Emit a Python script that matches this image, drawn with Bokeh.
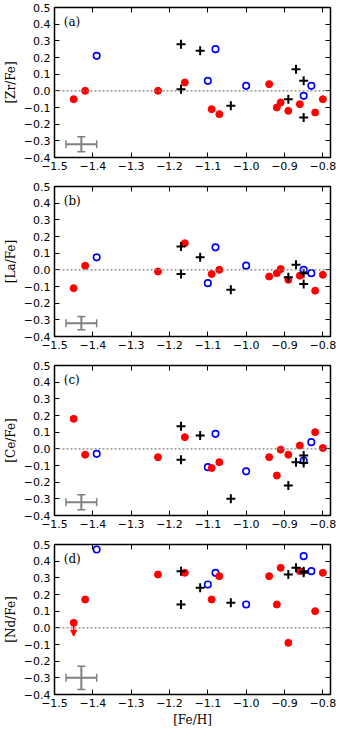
from bokeh.plotting import figure
from bokeh.layouts import column
from bokeh.models import (Range1d, FixedTicker, CustomJSTickFormatter, LinearAxis, Span,
                          Label, Whisker, TeeHead, Arrow, NormalHead, ColumnDataSource)
from bokeh.embed import file_html
from bokeh.resources import INLINE

# ---------------- data ----------------
fe_red = [-1.45, -1.42, -1.23, -1.16, -1.09, -1.07, -0.94, -0.92, -0.91, -0.89, -0.86, -0.82, -0.80]
fe_blue = [-1.39, -1.10, -1.08, -1.00, -0.85, -0.83]
fe_black = [-1.17, -1.17, -1.12, -1.04, -0.89, -0.87, -0.85, -0.85]

zr_red = [-0.05, 0.00, 0.00, 0.05, -0.11, -0.14, 0.04, -0.10, -0.07, -0.12, -0.08, -0.13, -0.05]
zr_blue = [0.21, 0.06, 0.25, 0.03, -0.03, 0.03]
zr_black = [0.28, 0.01, 0.24, -0.09, -0.05, 0.13, 0.06, -0.16]

la_red = [-0.11, 0.025, -0.01, 0.16, -0.025, 0.00, -0.04, -0.02, 0.005, -0.06, -0.035, -0.125, -0.03]
la_blue = [0.075, -0.08, 0.135, 0.025, 0.00, -0.02]
la_black = [0.14, -0.025, 0.075, -0.12, -0.045, 0.03, -0.02, -0.085]

ce_red = [0.18, -0.035, -0.05, 0.07, -0.115, -0.08, -0.05, -0.16, -0.005, -0.035, 0.02, 0.10, 0.005]
ce_blue = [-0.03, -0.11, 0.09, -0.135, -0.07, 0.04]
ce_black = [0.135, -0.065, 0.08, -0.30, -0.22, -0.08, -0.04, -0.085]

nd_red = [0.03, 0.17, 0.32, 0.33, 0.17, 0.31, 0.31, 0.14, 0.36, -0.09, 0.34, 0.10, 0.33]
nd_blue = [0.47, 0.26, 0.33, 0.14, 0.43, 0.34]
nd_black = [0.34, 0.14, 0.24, 0.15, 0.32, 0.36, 0.34, 0.33]

# upper limit on [Nd/Fe] for the most metal-poor star
nd_limit_fe = [-1.45]
nd_limit_val = [0.03]
nd_limit_arrow_to = [-0.05]

# typical error bars (per panel)
err_fe = [-1.43]
err_fe_size = [0.04]
err_val = {"a": -0.32, "b": -0.32, "c": -0.32, "d": -0.30}
err_val_size = {"a": 0.045, "b": 0.04, "c": 0.045, "d": 0.07}

panel_tags = ["(a)", "(b)", "(c)", "(d)"]
panel_ylabels = ["[Zr/Fe]", "[La/Fe]", "[Ce/Fe]", "[Nd/Fe]"]
x_label = "[Fe/H]"

x_ticks = [-1.5, -1.4, -1.3, -1.2, -1.1, -1.0, -0.9, -0.8]
x_tick_labels = ["\u22121.5", "\u22121.4", "\u22121.3", "\u22121.2", "\u22121.1", "\u22121.0", "\u22120.9", "\u22120.8"]
y_ticks = [-0.4, -0.3, -0.2, -0.1, 0.0, 0.1, 0.2, 0.3, 0.4, 0.5]
y_tick_labels = ["\u22120.4", "\u22120.3", "\u22120.2", "\u22120.1", "0.0", "0.1", "0.2", "0.3", "0.4", "0.5"]

x_lim = (-1.5, -0.78)
y_lim = (-0.4, 0.5)

TICK_FONT = "DejaVu Sans"
SERIF = "DejaVu Serif"

label_code = """
let best = 0;
for (let i = 0; i < tvals.length; i++) {
  if (Math.abs(tvals[i] - tick) < Math.abs(tvals[best] - tick)) best = i;
}
return tlabels[best];
"""


def style_axis(ax, ticks, labels, show_labels):
    ax.ticker = FixedTicker(ticks=ticks)
    if show_labels:
        ax.formatter = CustomJSTickFormatter(args=dict(tvals=ticks, tlabels=labels), code=label_code)
        ax.major_label_text_font = TICK_FONT
        ax.major_label_text_font_size = "11px"
        ax.major_label_text_color = "black"
        ax.major_label_standoff = 4
    else:
        ax.formatter = CustomJSTickFormatter(code="return '';")
        ax.major_label_standoff = 0
        ax.major_label_text_font_size = "0px"
    ax.axis_line_color = None
    ax.major_tick_in = 5
    ax.major_tick_out = 0
    ax.major_tick_line_color = "black"
    ax.major_tick_line_width = 1
    ax.minor_tick_line_color = None
    ax.axis_label_text_color = "black"


def make_panel(idx, red, blue, black, key, last=False):
    p = figure(frame_width=276, frame_height=150,
               x_range=Range1d(*x_lim), y_range=Range1d(*y_lim),
               output_backend="svg", toolbar_location=None,
               min_border_left=46, min_border_right=8,
               min_border_top=7, min_border_bottom=35 if last else 22,
               x_axis_location=None, y_axis_location=None)
    p.grid.visible = False
    p.outline_line_color = "black"
    p.outline_line_width = 1.5
    p.background_fill_color = "white"
    p.border_fill_color = "white"

    bottom = LinearAxis()
    style_axis(bottom, x_ticks, x_tick_labels, True)
    if last:
        bottom.axis_label = x_label
        bottom.axis_label_text_font = SERIF
        bottom.axis_label_text_font_size = "12px"
        bottom.axis_label_text_font_style = "normal"
        bottom.axis_label_standoff = 3
    p.add_layout(bottom, "below")

    left = LinearAxis()
    style_axis(left, y_ticks, y_tick_labels, True)
    left.axis_label = panel_ylabels[idx]
    left.axis_label_text_font = SERIF
    left.axis_label_text_font_size = "12px"
    left.axis_label_text_font_style = "normal"
    left.axis_label_standoff = 3
    p.add_layout(left, "left")

    top = LinearAxis()
    style_axis(top, x_ticks, x_tick_labels, False)
    p.add_layout(top, "above")
    right = LinearAxis()
    style_axis(right, y_ticks, y_tick_labels, False)
    p.add_layout(right, "right")

    p.add_layout(Span(location=0, dimension="width", line_color="#808080",
                      line_dash="2 2", line_width=1.2))

    # error bar
    ev = err_val[key]
    es = err_val_size[key]
    src = ColumnDataSource(dict(
        x=err_fe, y=[ev],
        xl=[err_fe[0] - err_fe_size[0]], xu=[err_fe[0] + err_fe_size[0]],
        yl=[ev - es], yu=[ev + es]))
    p.add_layout(Whisker(source=src, base="x", lower="yl", upper="yu", dimension="height",
                         line_color="#808080", line_width=2,
                         lower_head=TeeHead(size=8, line_color="#808080", line_width=1.5),
                         upper_head=TeeHead(size=8, line_color="#808080", line_width=1.5)))
    p.add_layout(Whisker(source=src, base="y", lower="xl", upper="xu", dimension="width",
                         line_color="#808080", line_width=2,
                         lower_head=TeeHead(size=8, line_color="#808080", line_width=1.5),
                         upper_head=TeeHead(size=8, line_color="#808080", line_width=1.5)))

    if last:
        p.add_layout(Arrow(x_start=nd_limit_fe[0], y_start=nd_limit_val[0],
                           x_end=nd_limit_fe[0], y_end=nd_limit_arrow_to[0],
                           line_color="red", line_width=1.5,
                           end=NormalHead(size=6, fill_color="red", line_color="red")))

    p.scatter(fe_blue, blue, marker="circle", size=6.5, fill_color=None,
              line_color="blue", line_width=1.6)
    p.scatter(fe_red, red, marker="circle", size=7, fill_color="red", line_color="red")
    p.scatter(fe_black, black, marker="cross", size=9, line_color="black", line_width=2)

    p.add_layout(Label(x=-1.476, y=0.415, text=panel_tags[idx], text_baseline="middle",
                       text_font=SERIF, text_font_size="12px", text_color="black"))
    return p


pa = make_panel(0, zr_red, zr_blue, zr_black, "a")
pb = make_panel(1, la_red, la_blue, la_black, "b")
pc = make_panel(2, ce_red, ce_blue, ce_black, "c")
pd = make_panel(3, nd_red, nd_blue, nd_black, "d", last=True)

layout = column(pa, pb, pc, pd, spacing=0)
open("out.html", "w").write(file_html(layout, INLINE))
